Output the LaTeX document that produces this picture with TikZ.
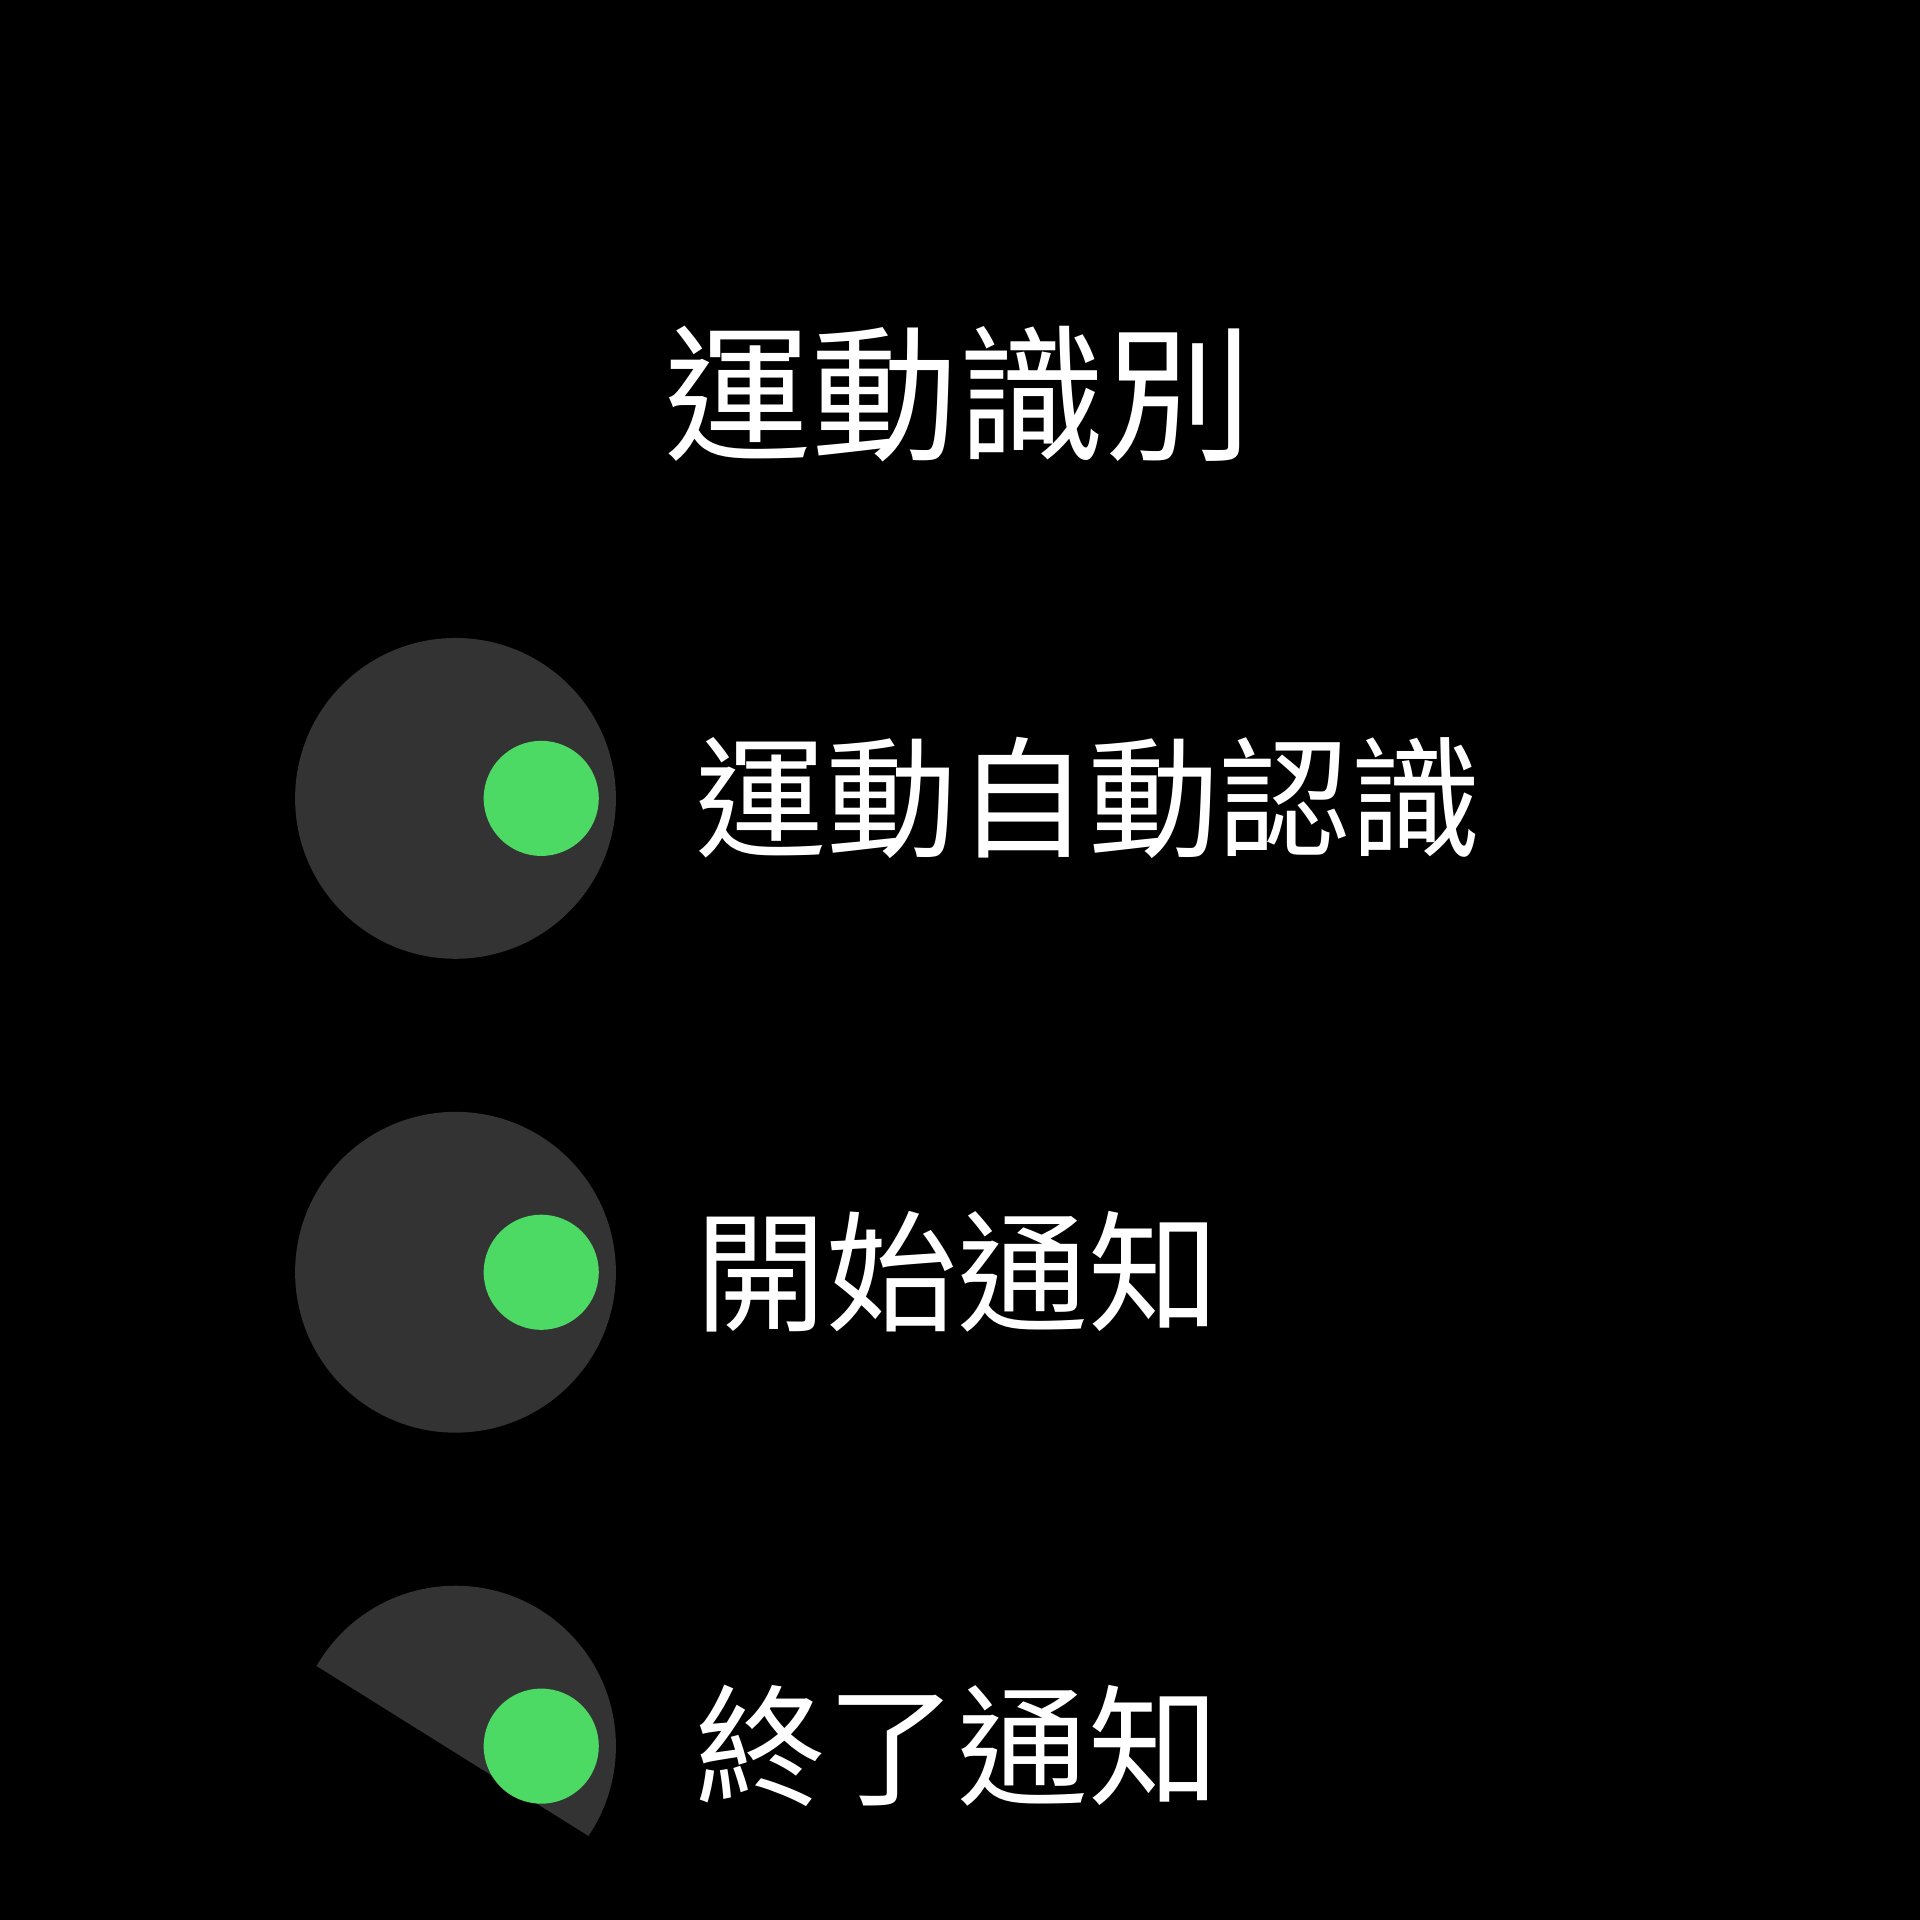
\documentclass[tikz,border=0pt]{standalone}
\usepackage{fontspec}
\newfontfamily\cjk{Noto Sans CJK TC}
\definecolor{knob}{HTML}{333333}
\definecolor{dot}{HTML}{4CD964}
\tikzset{lbl/.style={text=white,font=\cjk\fontsize{107}{110}\selectfont,anchor=west,inner sep=0pt},
 bg/.style={fill=knob,draw=none},
 dt/.style={fill=dot,draw=none}}
\begin{document}
\begin{tikzpicture}[x=1pt,y=-1pt]
\fill[black] (0,0) rectangle (1568,1568);
\useasboundingbox (0,0) rectangle (1568,1568);
\node[text=white,font=\cjk\fontsize{120}{124}\selectfont,inner sep=0pt] (title) at (783,322) {運動識別};
\fill[bg] (372,652) circle (131);
\fill[dt] (442,652) circle (47);
\node[lbl] (r1) at (568,652) {運動自動認識};
\fill[bg] (372,1039) circle (131);
\fill[dt] (442,1039) circle (47);
\node[lbl] (r2) at (568,1039) {開始通知};
\begin{scope}
\clip (200,1324) -- (600,1574) -- (600,1200) -- (200,1200) -- cycle;
\fill[bg] (372,1426) circle (131);
\end{scope}
\fill[dt] (442,1426) circle (47);
\node[lbl] (r3) at (568,1426) {終了通知};
\end{tikzpicture}
\end{document}
